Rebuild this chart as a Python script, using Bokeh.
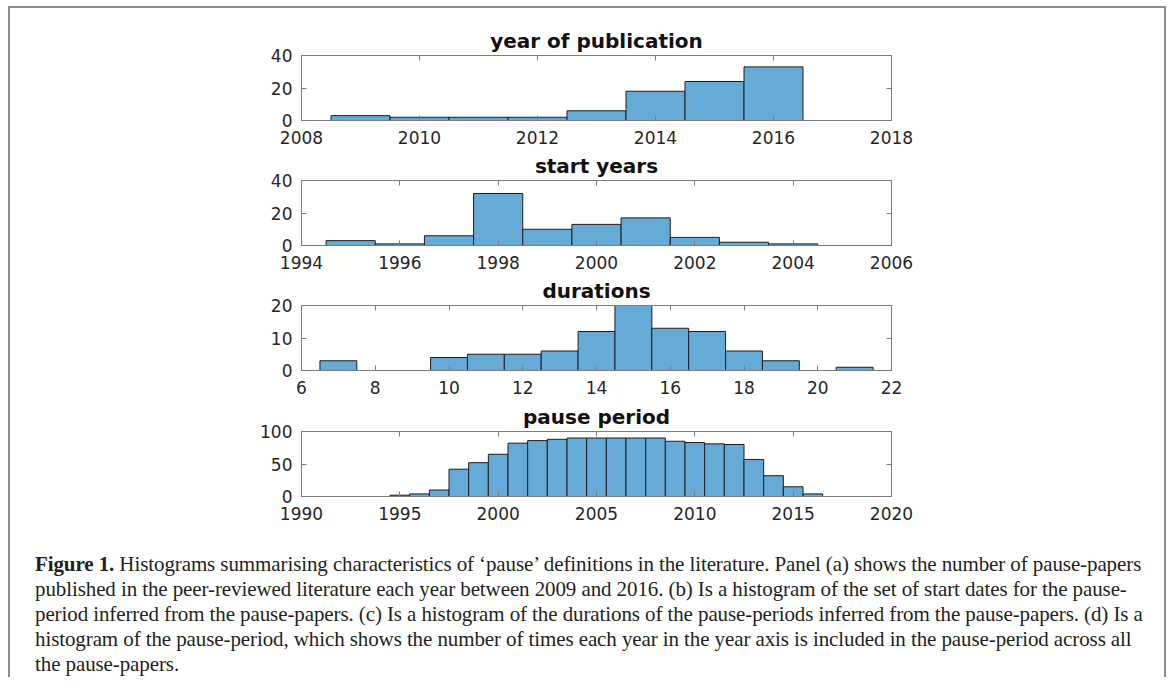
from bokeh.plotting import figure
from bokeh.models import LinearAxis, Div, FixedTicker, Range1d
from bokeh.layouts import column
from bokeh.embed import file_html
from bokeh.resources import INLINE

# ---------------- data ----------------
pub_years = [2009, 2010, 2011, 2012, 2013, 2014, 2015, 2016]
pub_counts = [3, 2, 2, 2, 6, 18, 24, 33]

start_years = [1995, 1996, 1997, 1998, 1999, 2000, 2001, 2002, 2003, 2004]
start_counts = [3, 1, 6, 32, 10, 13, 17, 5, 2, 1]

durations = [7, 8, 9, 10, 11, 12, 13, 14, 15, 16, 17, 18, 19, 20, 21]
duration_counts = [3, 0, 0, 4, 5, 5, 6, 12, 20, 13, 12, 6, 3, 0, 1]

pause_years = list(range(1995, 2017))
pause_counts = [2, 4, 10, 42, 52, 65, 82, 86, 88, 90, 90, 90, 90, 90, 85, 83,
                81, 80, 57, 32, 15, 4]

titles = ["year of publication", "start years", "durations", "pause period"]
x_ticks = [[2008, 2010, 2012, 2014, 2016, 2018],
           [1994, 1996, 1998, 2000, 2002, 2004, 2006],
           [6, 8, 10, 12, 14, 16, 18, 20, 22],
           [1990, 1995, 2000, 2005, 2010, 2015, 2020]]
y_ticks = [[0, 20, 40], [0, 20, 40], [0, 10, 20], [0, 50, 100]]

caption_lines = [
    "<b>Figure 1.</b> Histograms summarising characteristics of \u2018pause\u2019 definitions in the literature. Panel (a) shows the number of pause-papers",
    "published in the peer-reviewed literature each year between 2009 and 2016. (b) Is a histogram of the set of start dates for the pause-",
    "period inferred from the pause-papers. (c) Is a histogram of the durations of the pause-periods inferred from the pause-papers. (d) Is a",
    "histogram of the pause-period, which shows the number of times each year in the year axis is included in the pause-period across all",
    "the pause-papers.",
]

series = [(pub_years, pub_counts), (start_years, start_counts),
          (durations, duration_counts), (pause_years, pause_counts)]

BAR = "#66aad7"
EDGE = "#1e1e1e"
BOX = "#7c7c7c"
LABEL = "#262626"
FONT = "DejaVu Sans"

W = 1154
tops = [47, 32, 32, 33]
FH = 65
BOTTOM = 28

figs = []
for i, ((xs, cs), title) in enumerate(zip(series, titles)):
    xt = x_ticks[i]
    yt = y_ticks[i]
    h = tops[i] + FH + BOTTOM
    p = figure(width=W, height=h, output_backend="svg", toolbar_location=None,
               x_range=Range1d(xt[0], xt[-1]), y_range=Range1d(yt[0], yt[-1]),
               min_border_left=291, min_border_right=W - 291 - 590,
               min_border_top=tops[i], min_border_bottom=BOTTOM,
               x_axis_location=None, y_axis_location=None)
    p.background_fill_color = "white"
    p.border_fill_color = "white"
    p.grid.visible = False
    p.outline_line_color = BOX
    p.outline_line_width = 1

    p.vbar(x=xs, top=cs, bottom=0, width=1.0, fill_color=BAR,
           line_color=EDGE, line_width=1)

    for loc in ["below", "left", "above", "right"]:
        ax = LinearAxis()
        if loc in ("below", "above"):
            ax.ticker = FixedTicker(ticks=xt)
        else:
            ax.ticker = FixedTicker(ticks=yt)
        ax.axis_line_color = BOX
        ax.major_tick_line_color = BOX
        ax.major_tick_in = 5
        ax.major_tick_out = 0
        ax.minor_tick_line_color = None
        ax.major_label_text_font = FONT
        ax.major_label_text_font_size = "17px"
        ax.major_label_text_color = LABEL
        if loc in ("above", "right"):
            # mirrored ticks only, labels not drawn
            ax.major_label_text_font_size = "1px"
            ax.major_label_text_color = None
            ax.major_label_standoff = 0
        else:
            ax.major_label_standoff = 10 if loc == "below" else 9
        p.add_layout(ax, loc)

    p.title.text = title
    p.title.align = "center"
    p.title.text_font = FONT
    p.title.text_font_style = "bold"
    p.title.text_font_size = "20px"
    p.title.text_color = "#111111"
    p.title.standoff = 6
    figs.append(p)

cap = Div(text="<br>".join(caption_lines), width=W - 30,
          margin=(28, 0, 0, 25),
          styles={"font-family": "Liberation Serif", "font-size": "21px",
                  "line-height": "25px", "white-space": "nowrap",
                  "color": "#231f20", "letter-spacing": "-0.1px"})

layout = column(*figs, cap, spacing=0, margin=(6, 0, 0, 8),
                styles={"border-top": "2px solid #8c8c8c",
                        "border-left": "2px solid #8c8c8c",
                        "border-right": "2px solid #8c8c8c",
                        "background-color": "white"})

open("out.html", "w").write(file_html(layout, INLINE))
